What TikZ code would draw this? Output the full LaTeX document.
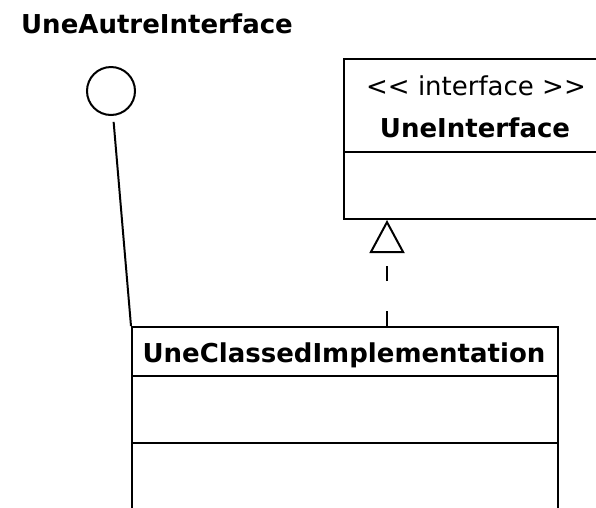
\documentclass[tikz,border=0pt]{standalone}
\usepackage{fontspec}
\setmainfont{DejaVu Sans}[Ligatures={NoCommon}]
\usetikzlibrary{arrows.meta,calc}
\begin{document}
\begin{tikzpicture}[x=1pt,y=-1pt,
  box/.style={draw, line width=2pt, inner sep=0pt, anchor=north west},
  clsname/.style={font=\fontsize{26}{30}\selectfont\bfseries, anchor=base, inner sep=0pt},
  stereo/.style={font=\fontsize{26}{30}\selectfont, anchor=base, inner sep=0pt},
  link/.style={line width=2pt},
]
\useasboundingbox (0,0) rectangle (596,507);
\clip (0,0) rectangle (596,507);

% provided interface (lollipop)
\node[draw, circle, minimum size=48pt, line width=2pt, inner sep=0pt] (lolli) at (111,91) {};
\node[clsname] (lolliname) at (157,33) {UneAutreInterface};

% interface class box
\node[box, minimum width=264pt, minimum height=160pt] (iface) at (343,58) {};
\draw[link] ($(iface.north west)+(0,94)$) -- ($(iface.north east)+(0,94)$);
\node[stereo] (ifacestereo) at (476,95) {{<}{<} interface {>}{>}};
\node[clsname] (ifacename) at (475,137) {UneInterface};

% implementing class box
\node[box, minimum width=426pt, minimum height=200pt] (cls) at (131,326) {};
\draw[link] ($(cls.north west)+(0,50)$) -- ($(cls.north east)+(0,50)$);
\draw[link] ($(cls.north west)+(0,117)$) -- ($(cls.north east)+(0,117)$);
\node[clsname] (clsname) at (344,362) {UneClassedImplementation};

% realization
\coordinate (rx) at (387,0);
\draw[link, dash pattern=on 15pt off 30pt,
  -{Triangle[open, length=33pt, width=35pt, line width=2pt]}]
  (cls.north -| rx) -- (iface.south -| rx);

% lollipop connector
\draw[link, shorten <=6pt] (lolli) -- (cls.north west);
\end{tikzpicture}
\end{document}
